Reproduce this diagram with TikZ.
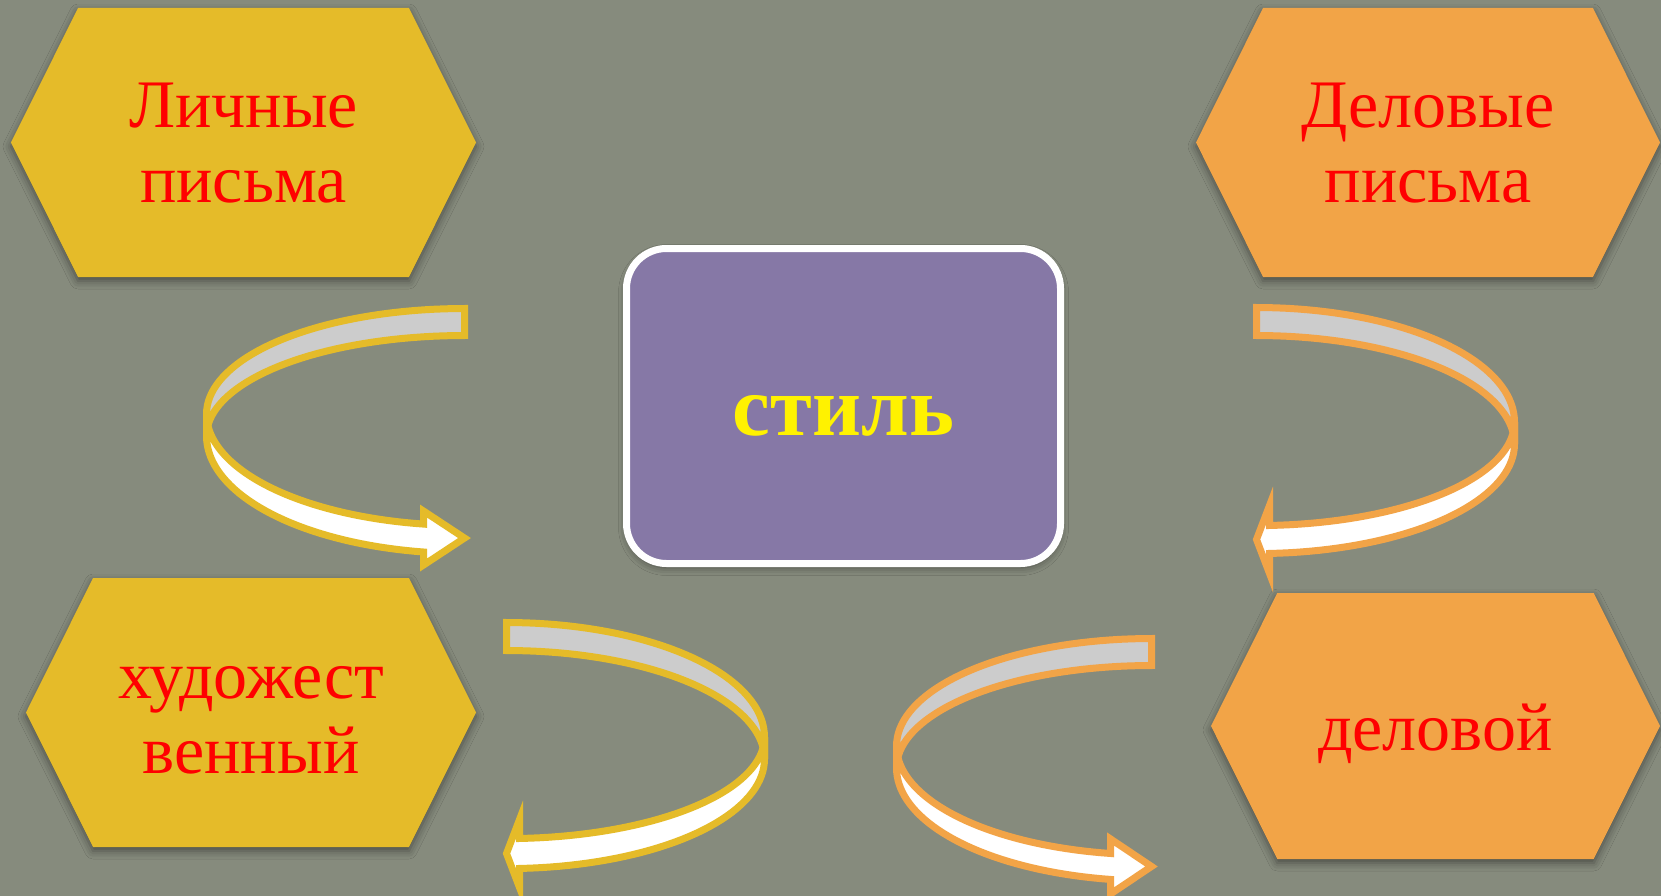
\documentclass[tikz,border=0pt]{standalone}
\usepackage{fontspec}
\setmainfont{Liberation Serif}
\usetikzlibrary{shapes.symbols, shadows.blur}
\definecolor{BgColor}{RGB}{134,139,125}
\definecolor{HexYellow}{RGB}{229,187,41}
\definecolor{HexOrange}{RGB}{242,164,71}
\definecolor{BandGray}{RGB}{204,204,204}
\definecolor{BoxPurple}{RGB}{134,120,166}
\definecolor{TextRed}{RGB}{255,0,0}

\tikzset{ribcol/.store in=\ribcol, ribcol=HexYellow}

% curved ribbon arrow: #1 scope options, #2 x radius, #3 ribbon height at the turn,
% #4/#5 upper/lower edge radius behind, #6/#7 upper/lower edge radius in front,
% #8 head base x, #9 half head height
\newcommand{\ribbon}[9]{%
  \begin{scope}[#1]
    \pgfmathsetmacro\riben{asin(-(#8)/(#2))}
    \pgfmathsetmacro\ribmid{0.5*(#3+(#6+#7)*cos(\riben))}
    % back band
    \filldraw[draw=\ribcol, fill=BandGray]
      plot[domain=0:90] ({-#2*sin(\x)},{-#4*cos(\x)})
      -- plot[domain=90:0] ({-#2*sin(\x)},{#3-#5*cos(\x)}) -- cycle;
    % front band with head
    \filldraw[draw=\ribcol, fill=white]
      plot[domain=90:\riben] ({-#2*sin(\x)},{#3+#7*cos(\x)})
      -- (#8,{\ribmid+#9}) -- (0,\ribmid) -- (#8,{\ribmid-#9})
      -- plot[domain=\riben:90] ({-#2*sin(\x)},{#6*cos(\x)}) -- cycle;
  \end{scope}}

\begin{document}
\begin{tikzpicture}[
    x=1pt, y=-1pt,
    hexcell/.style={signal, signal to=west and east, signal pointer angle=127,
      minimum height=269pt, inner sep=0pt, outer sep=0pt, align=center,
      text=TextRed, font=\fontsize{68}{75}\selectfont,
      blur shadow={shadow xshift=0pt, shadow yshift=-4pt, shadow blur radius=8pt, shadow opacity=45}},
    stylebox/.style={rectangle, rounded corners=40pt, draw=white, line width=7pt,
      fill=BoxPurple, minimum width=434pt, minimum height=315pt,
      text=yellow, font=\bfseries\fontsize{85}{90}\selectfont,
      text height=59pt, text depth=0pt,
      blur shadow={shadow xshift=0pt, shadow yshift=-4pt, shadow blur radius=8pt, shadow opacity=45}},
    every plot/.style={samples=40},
    line width=7pt,
]

% Background
\fill[BgColor] (0,0) rectangle (1661,896);
\useasboundingbox (0,0) rectangle (1661,896);

% Hexagons
\node[hexcell, fill=HexYellow, minimum width=465pt, text height=120pt, text depth=0pt] (lichnye) at (243.5,142.5) {Личные\\письма};
\node[hexcell, fill=HexOrange, minimum width=464pt, text height=120pt, text depth=0pt] (delovye) at (1428,142.5) {Деловые\\письма};
\node[hexcell, fill=HexYellow, minimum width=450pt, text height=122pt, text depth=0pt] (hudozh) at (251,712.5) {художест\\венный};
\node[hexcell, fill=HexOrange, minimum width=449pt, minimum height=266pt, text height=48pt, text depth=0pt] (delovoj) at (1435.5,726) {деловой};

% Centre
\node[stylebox] (stil) at (843.5,406) {стиль};

% Curved arrows
\ribbon{shift={(464.5,414)}, ribcol=HexYellow}{258}{22}{105.5}{100.5}{111.5}{117.5}{-41}{27}
\ribbon{shift={(506.5,737)}, xscale=-1, ribcol=HexYellow}{258}{22}{114.5}{108.5}{101.6}{109.6}{-13}{34}
\ribbon{shift={(1151.5,746)}, ribcol=HexOrange}{255}{22}{107.5}{102.5}{108.9}{112.9}{-41}{27.5}
\ribbon{shift={(1256.5,422)}, xscale=-1, ribcol=HexOrange}{258}{22}{114.5}{108.5}{103.6}{109.6}{-13}{34}

\end{tikzpicture}
\end{document}
